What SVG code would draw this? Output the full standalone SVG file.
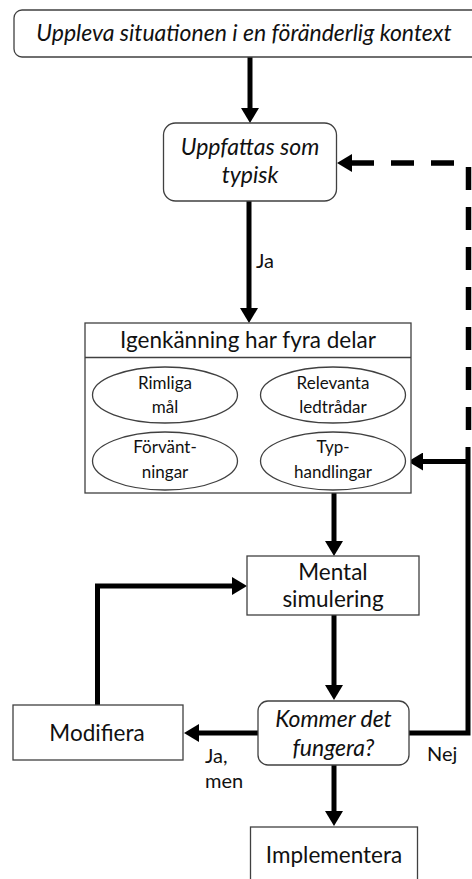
<svg xmlns="http://www.w3.org/2000/svg" width="472" height="879" viewBox="0 0 472 879">
<style>
  .box { fill: #ffffff; stroke: #404040; stroke-width: 1.3; }
  .t { font-family: Lato, "Liberation Sans", sans-serif; fill: #111111; text-anchor: middle; }
  .big { font-size: 22.5px; }
  .small { font-size: 17px; }
  .it { font-style: italic; font-size: 23px; }
  .lbl { font-family: Lato, "Liberation Sans", sans-serif; fill: #111111; font-size: 20px; }
  .c { fill: none; stroke: #000000; stroke-width: 5; }
  .dash { stroke-dasharray: 23 17; stroke-width: 5.5; }
</style>
<defs>
  <marker id="ah" markerUnits="userSpaceOnUse" viewBox="0 0 15 18" markerWidth="15" markerHeight="18" refX="4" refY="9" orient="auto">
    <path d="M0,0 L15,9 L0,18 Z" fill="#000000"/>
  </marker>
</defs>
<rect width="472" height="879" fill="#ffffff"/>

<g id="connectors">
  <path class="c" d="M250,57 V112" marker-end="url(#ah)"/>
  <path class="c" d="M249,201 V312" marker-end="url(#ah)"/>
  <path class="c" d="M334,493 V545" marker-end="url(#ah)"/>
  <path class="c" d="M334,615 V689" marker-end="url(#ah)"/>
  <path class="c" d="M334,765 V815" marker-end="url(#ah)"/>
  <path class="c" d="M258,733 H195" marker-end="url(#ah)"/>
  <path class="c" d="M97.5,705 V586 H236" marker-end="url(#ah)"/>
  <path class="c" d="M409,733 H468 V447"/>
  <path class="c" d="M468,461.5 H419" marker-end="url(#ah)"/>
  <path class="c dash" d="M468.5,430 V167"/>
  <path class="c dash" d="M454,163 H348" marker-end="url(#ah)"/>
  <text class="lbl" x="256" y="268">Ja</text>
  <text class="lbl" x="205" y="763">Ja,</text>
  <text class="lbl" x="205" y="788">men</text>
  <text class="lbl" x="427" y="761">Nej</text>
</g>

<g id="n-uppleva">
  <rect class="box" x="14" y="10" width="480" height="47" rx="8"/>
  <text class="t it" x="244" y="41">Uppleva situationen i en föränderlig kontext</text>
</g>

<g id="n-uppfattas">
  <rect class="box" x="163.5" y="123" width="173" height="78" rx="12"/>
  <text class="t it" x="250" y="155">Uppfattas som</text>
  <text class="t it" x="250" y="183">typisk</text>
</g>

<g id="n-igenkanning">
  <rect class="box" x="85" y="323" width="326" height="170"/>
  <line x1="85" y1="357.5" x2="411" y2="357.5" stroke="#404040" stroke-width="1.3"/>
  <text class="t big" x="248" y="348">Igenkänning har fyra delar</text>
</g>

<g id="n-rimliga">
  <ellipse class="box" cx="165" cy="395" rx="72.5" ry="28"/>
  <text class="t small" x="165" y="389">Rimliga</text>
  <text class="t small" x="165" y="413">mål</text>
</g>

<g id="n-relevanta">
  <ellipse class="box" cx="333" cy="395" rx="72.5" ry="28"/>
  <text class="t small" x="333" y="389">Relevanta</text>
  <text class="t small" x="333" y="413">ledtrådar</text>
</g>

<g id="n-forvantningar">
  <ellipse class="box" cx="165" cy="461" rx="72.5" ry="29"/>
  <text class="t small" x="165" y="453">Förvänt-</text>
  <text class="t small" x="165" y="478">ningar</text>
</g>

<g id="n-typhandlingar">
  <ellipse class="box" cx="333" cy="461" rx="72.5" ry="29"/>
  <text class="t small" x="333" y="453">Typ-</text>
  <text class="t small" x="333" y="478">handlingar</text>
</g>

<g id="n-mental">
  <rect class="box" x="247" y="556" width="172" height="59"/>
  <text class="t big" x="333" y="580">Mental</text>
  <text class="t big" x="333" y="607">simulering</text>
</g>

<g id="n-kommer">
  <rect class="box" x="258" y="701" width="151" height="64" rx="10"/>
  <text class="t it" x="333.5" y="727">Kommer det</text>
  <text class="t it" x="333.5" y="756">fungera?</text>
</g>

<g id="n-modifiera">
  <rect class="box" x="13" y="705" width="170" height="55"/>
  <text class="t big" x="97" y="741">Modifiera</text>
</g>

<g id="n-implementera">
  <rect class="box" x="250.5" y="827" width="167" height="70"/>
  <text class="t big" x="334" y="863">Implementera</text>
</g>
</svg>
